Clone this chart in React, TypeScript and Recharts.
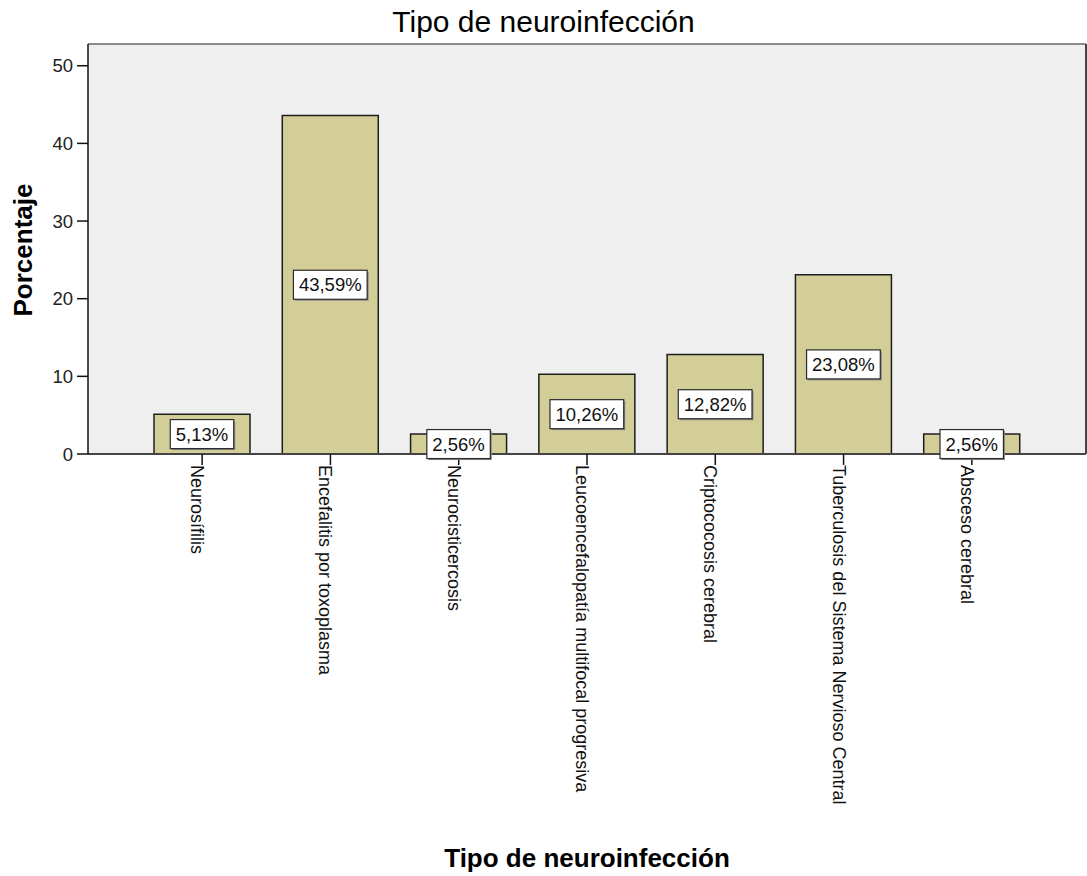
import React from "react";
import {
  Bar,
  BarChart,
  CartesianGrid,
  Label,
  LabelList,
  XAxis,
  YAxis,
} from "recharts";

const categories = [
  "Neurosífilis",
  "Encefalitis por toxoplasma",
  "Neurocisticercosis",
  "Leucoencefalopatía multifocal progresiva",
  "Criptococosis cerebral",
  "Tuberculosis del Sistema Nervioso Central",
  "Absceso cerebral",
];
const percentages = [5.13, 43.59, 2.56, 10.26, 12.82, 23.08, 2.56];
const yTicks = [0, 10, 20, 30, 40, 50];

const data = categories.map((name, i) => ({ name, value: percentages[i] }));

const FONT = '"Liberation Sans", Arial, sans-serif';
const W = 1087;
const H = 876;

const fmt = (v: number) => v.toFixed(2).replace(".", ",") + "%";

// rotated category names hanging below the axis
function CategoryTick({ x, y, payload }: any) {
  return (
    <text
      x={x}
      y={y + 11}
      transform={`rotate(90, ${x}, ${y})`}
      textAnchor="start"
      fontSize={18}
      fontFamily={FONT}
      fill="#111"
    >
      {payload.value}
    </text>
  );
}

// white boxed value sitting at the middle of each bar
function ValueBox(props: any) {
  const { x, y, width, height, value } = props;
  const cx = x + width / 2;
  const cy = y + height / 2;
  const text = fmt(value);
  const digits = text.replace(/[^0-9]/g, "").length;
  const bw = 18.5 * (digits * 0.556 + 0.278 + 0.889) + 11;
  const bh = 29;
  return (
    <g>
      <rect x={cx - bw / 2 + 1.5} y={cy - bh / 2 + 1.5} width={bw} height={bh} fill="#8a8a8a" />
      <rect x={cx - bw / 2} y={cy - bh / 2} width={bw} height={bh} fill="#fff" stroke="#2a2a2a" strokeWidth={1.2} />
      <text x={cx} y={cy + 6.5} textAnchor="middle" fontSize={18.5} fontFamily={FONT} fill="#111">
        {text}
      </text>
    </g>
  );
}

export default function App() {
  return (
    <div style={{ position: "absolute", left: 0, top: 0, width: W, height: H, background: "#fff" }}>
      <BarChart width={W} height={H} data={data} margin={{ top: 44, right: 1, bottom: 0, left: 0 }}>
        <CartesianGrid fill="#efefef" horizontal={false} vertical={false} />
        {/* frame: grey top edge, dark right edge */}
        <CartesianGrid
          vertical={false}
          stroke="#8c8c8c"
          strokeWidth={2}
          horizontalCoordinatesGenerator={({ offset }: any) => [offset.top]}
        />
        <CartesianGrid
          horizontal={false}
          stroke="#444"
          strokeWidth={2}
          verticalCoordinatesGenerator={({ offset }: any) => [offset.left + offset.width]}
        />
        <XAxis
          dataKey="name"
          height={422}
          interval={0}
          tickSize={11}
          tickMargin={0}
          tickLine={{ stroke: "#111", strokeWidth: 1.5 }}
          axisLine={{ stroke: "#444", strokeWidth: 2 }}
          tick={<CategoryTick />}
          padding={{ left: 50, right: 50 }}
        >
          <Label
            content={() => (
              <text x={587} y={867} textAnchor="middle" fontSize={26} fontWeight="bold" fontFamily={FONT} fill="#000">
                Tipo de neuroinfección
              </text>
            )}
          />
        </XAxis>
        <YAxis
          width={88}
          domain={[0, 52.8]}
          ticks={yTicks}
          tickSize={11}
          tickMargin={4}
          tickLine={{ stroke: "#111", strokeWidth: 1.5 }}
          axisLine={{ stroke: "#111", strokeWidth: 1.5 }}
          tick={{ fontSize: 18.5, fontFamily: FONT, fill: "#222" }}
        >
          <Label
            content={() => (
              <text
                x={32}
                y={250}
                transform="rotate(-90, 32, 250)"
                textAnchor="middle"
                fontSize={26}
                fontWeight="bold"
                fontFamily={FONT}
                fill="#000"
              >
                Porcentaje
              </text>
            )}
          />
          <Label
            content={() => (
              <text x={W / 2} y={32} textAnchor="middle" fontSize={30} fontFamily={FONT} fill="#000">
                Tipo de neuroinfección
              </text>
            )}
          />
        </YAxis>
        <Bar
          dataKey="value"
          barSize={96}
          fill="#d3ce97"
          stroke="#1e1e1e"
          strokeWidth={1.5}
          isAnimationActive={false}
        >
          <LabelList dataKey="value" content={<ValueBox />} />
        </Bar>
      </BarChart>
    </div>
  );
}
